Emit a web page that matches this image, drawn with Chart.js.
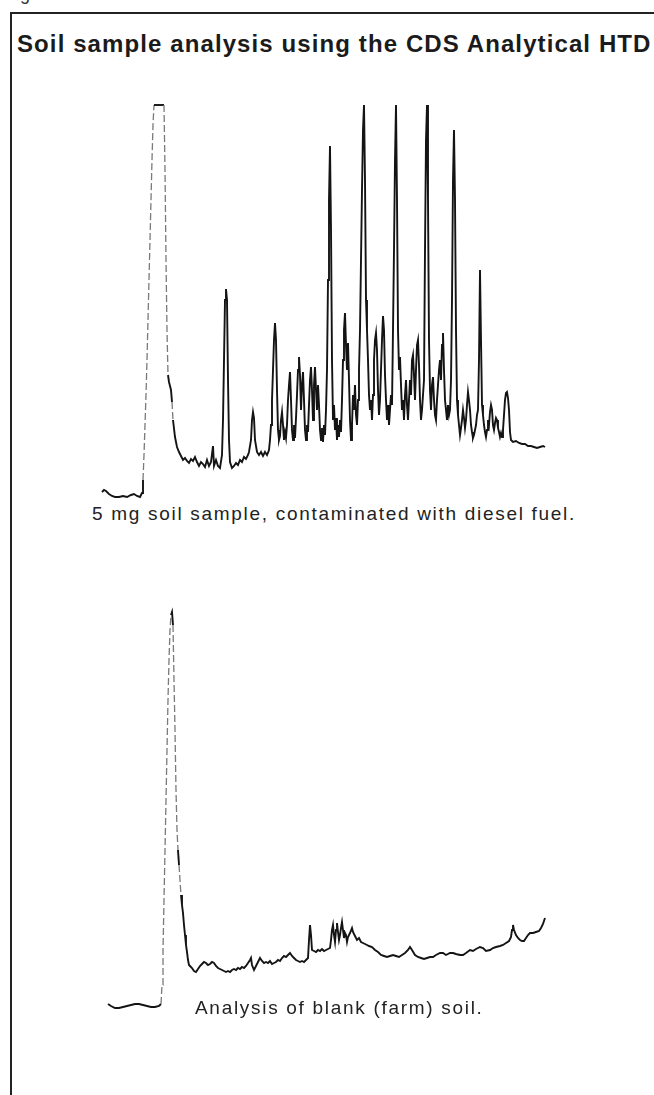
<!DOCTYPE html>
<html>
<head>
<meta charset="utf-8">
<script src="https://cdn.jsdelivr.net/npm/chart.js@4.4.1/dist/chart.umd.min.js"></script>
<style>
html,body{margin:0;padding:0;background:#fff;}
body{width:654px;height:1095px;position:relative;overflow:hidden;font-family:"Liberation Sans",Arial,Helvetica,sans-serif;color:#1b1b1b;}
#frame{position:absolute;left:10px;top:12px;width:660px;height:1100px;border-top:2px solid #222;border-left:2px solid #222;}
#fig{position:absolute;left:5px;top:-16px;font-size:18px;color:#333;}
#title{position:absolute;left:17px;top:30px;font-size:24px;font-weight:bold;letter-spacing:1.1px;white-space:nowrap;}
.cap{position:absolute;font-size:19px;letter-spacing:1.7px;white-space:nowrap;color:#222;}
#cap1{left:92px;top:503px;}
#cap2{left:195px;top:997px;}
#c1{position:absolute;left:100px;top:100px;}
#c2{position:absolute;left:100px;top:600px;}
</style>
</head>
<body>
<div id="fig">Figure</div>
<div id="frame"></div>
<div id="title">Soil sample analysis using the CDS Analytical HTD</div>
<canvas id="c1" width="450" height="400"></canvas>
<div class="cap" id="cap1">5 mg soil sample, contaminated with diesel fuel.</div>
<canvas id="c2" width="450" height="420"></canvas>
<div class="cap" id="cap2">Analysis of blank (farm) soil.</div>
<script>
// Retention time (min) and detector response (arbitrary units)
const sampleTime = [
0.2,0.4,0.6,0.9,1.2,1.5,1.9,2.3,2.7,3.1,3.4,3.7,4.0,4.2,
4.3,4.4,4.5,4.6,4.7,4.8,4.9,5.0,5.1,5.2,5.3,5.4,6.4,
6.5,6.6,6.7,6.8,6.9,7.1,7.2,7.3,7.5,7.7,7.9,8.1,8.3,8.5,8.7,8.9,9.1,9.3,9.5,9.7,9.9,10.1,10.3,10.5,10.7,10.9,11.1,11.3,11.4,11.6,11.8,12.0,12.2,12.3,12.4,12.5,12.6,12.7,12.8,12.9,13.0,13.2,13.4,13.6,13.8,14.0,14.2,14.4,14.6,14.8,14.9,15.1,15.2,15.3,15.4,15.5,15.7,15.9,16.1,16.3,16.5,16.7,16.9,
17.0,17.1,17.2,17.3,17.4,17.5,17.6,17.7,17.8,17.9,
18.0,18.1,18.2,18.3,18.4,18.5,18.6,18.7,18.8,18.9,
19.0,19.1,19.2,19.3,19.4,19.5,19.6,19.7,19.8,19.9,
20.0,20.1,20.2,20.3,20.4,20.5,20.6,20.7,20.8,20.9,
21.0,21.1,21.2,21.3,21.4,21.5,21.6,21.7,21.8,21.9,
22.0,22.1,22.2,22.3,22.4,22.5,22.6,22.7,22.8,22.9,
23.0,23.1,23.2,23.3,23.4,23.5,23.6,23.7,23.8,23.9,
24.0,24.1,24.2,24.3,24.4,24.5,24.6,24.7,24.8,24.9,
25.0,25.1,25.2,25.3,25.4,25.5,25.6,25.7,25.8,25.9,
26.0,26.1,26.2,26.3,26.4,26.5,26.6,26.7,26.8,26.9,
27.0,27.1,27.2,27.3,27.4,27.5,27.6,27.7,27.8,27.9,
28.0,28.1,28.2,28.3,28.4,28.5,28.6,28.7,28.8,28.9,
29.0,29.1,29.2,29.3,29.4,29.5,29.6,29.7,29.8,29.9,
30.0,30.1,30.2,30.3,30.4,30.5,30.6,30.7,30.8,30.9,
31.0,31.1,31.2,31.3,31.4,31.5,31.6,31.7,31.8,31.9,
32.0,32.1,32.2,32.3,32.4,32.5,32.6,32.7,32.8,32.9,
33.0,33.1,33.2,33.3,33.4,33.5,33.6,33.7,33.8,33.9,
34.0,34.1,34.2,34.3,34.4,34.5,34.6,34.7,34.8,34.9,
35.0,35.1,35.2,35.3,35.4,35.5,35.6,35.7,35.8,35.9,
36.0,36.1,36.2,36.3,36.4,36.5,36.6,36.7,36.8,36.9,
37.0,37.1,37.2,37.3,37.4,37.5,37.6,37.7,37.8,37.9,
38.0,38.1,38.2,38.3,38.4,38.5,38.6,38.7,38.8,38.9,
39.0,39.1,39.2,39.3,39.4,39.5,39.6,39.7,39.8,39.9,
40.0,40.1,40.2,40.3,40.4,40.5,40.6,40.7,40.8,40.9,
41.0,41.1,41.3,41.6,41.9,42.2,42.5,42.8,43.1,43.4,43.7,44.0,44.3,44.5
];
const sampleSignal = [
8,10,9,6,4,3,3,4,3,5,6,4,3,7,
20,45,75,105,140,180,220,260,300,340,375,395,395,
330,240,170,125,118,110,98,80,63,53,48,44,40,42,39,37,41,39,43,38,34,38,36,33,40,34,38,54,34,40,34,32,45,80,140,200,211,200,120,60,38,32,34,37,35,40,38,43,41,45,48,60,80,88,82,60,48,45,48,44,48,45,50,
60,75,100,130,160,177,160,110,70,60,
64,80,88,75,60,68,62,75,100,115,
128,100,70,60,75,62,82,105,130,143,
125,90,115,128,100,70,60,75,68,95,
120,133,110,80,115,133,110,90,115,95,
70,60,72,58,75,65,90,130,220,300,
354,270,140,80,95,70,82,60,75,63,
80,68,100,140,170,187,155,130,157,120,
80,60,75,105,90,115,85,75,100,130,
170,240,310,370,395,320,200,170,140,105,
90,100,80,105,140,160,167,150,110,85,
100,130,160,184,170,125,100,80,95,75,
90,105,95,170,250,340,395,300,170,130,
143,115,90,100,80,105,120,95,80,100,
120,105,140,145,125,100,130,155,160,135,
100,80,90,105,120,250,360,395,300,160,
110,90,115,123,100,85,80,100,115,130,
140,120,155,167,130,100,90,80,95,85,
90,120,200,320,370,300,170,100,85,75,
65,72,80,90,82,72,80,95,108,100,
90,75,68,62,65,70,75,85,90,140,
230,160,95,85,75,68,63,70,80,75,
88,95,90,75,70,77,82,80,72,68,
63,67,63,70,85,100,107,108,102,90,
68,60,58,59,57,56,56,54,54,53,52,53,54,53
];
const blankTime = [
0.8,1.1,1.5,1.9,2.3,2.7,3.1,3.5,3.9,4.3,4.7,5.1,5.5,5.9,6.1,
6.2,6.3,6.4,6.5,6.6,6.7,6.8,6.9,7.0,7.1,7.2,7.3,7.4,7.5,7.6,7.7,7.8,7.9,8.0,8.1,8.2,8.3,8.4,8.5,8.6,8.7,8.8,8.9,9.0,
9.2,9.4,9.6,9.8,10.0,10.2,10.4,10.6,10.8,11.0,11.2,11.4,11.6,11.8,12.0,12.2,12.4,12.6,12.8,13.0,13.2,13.4,13.6,13.8,14.0,14.2,14.4,14.6,14.8,15.0,15.1,15.2,15.4,15.6,15.8,16.0,16.2,16.4,16.6,16.8,17.0,17.2,17.4,17.6,17.8,18.0,18.2,18.4,18.6,18.8,19.0,19.2,19.4,19.6,19.8,20.0,20.2,20.4,20.6,20.8,20.9,21.0,21.1,21.2,21.4,21.6,21.8,22.0,22.2,22.4,22.6,22.8,23.0,
23.1,23.2,23.3,23.4,23.5,23.6,23.7,23.8,23.9,24.0,24.1,24.2,24.3,24.4,24.5,24.6,24.7,24.8,25.0,25.2,25.3,25.5,25.7,25.9,26.1,26.3,26.5,26.7,26.9,27.2,27.5,27.8,28.1,28.4,28.7,29.0,29.3,29.6,29.9,30.2,30.5,30.8,31.0,31.2,31.5,31.8,32.1,32.4,32.7,33.0,33.3,33.6,34.0,34.3,34.6,35.0,35.3,35.6,36.0,36.3,36.6,37.0,37.3,37.6,38.0,38.3,38.6,39.0,39.3,39.6,40.0,40.3,40.6,40.9,41.1,41.2,41.3,41.4,41.6,41.8,42.0,42.2,42.4,42.6,42.8,43.0,43.3,43.6,43.9,44.1,44.3,44.5
];
const blankSignal = [
16,14,12,12,13,14,15,16,16,15,14,13,13,14,16,
35,70,120,170,220,270,320,360,390,405,408,395,340,290,230,190,170,155,140,125,115,107,95,85,75,68,60,55,54,
52,49,48,51,54,56,58,57,55,56,58,57,54,52,51,50,49,48,49,48,50,51,50,52,51,53,52,54,57,60,62,55,50,54,58,62,59,57,58,57,59,56,57,58,60,59,62,64,63,65,67,64,62,60,59,58,59,58,60,62,80,95,85,70,69,68,70,69,71,69,70,71,72,
80,90,95,85,78,90,97,88,80,85,92,98,90,82,87,85,78,83,87,92,88,84,80,82,78,77,76,75,74,73,70,68,65,64,63,64,65,64,63,65,67,70,73,70,65,63,62,61,62,63,63,65,67,67,65,67,67,66,65,65,67,70,69,71,73,72,69,70,72,73,74,75,77,79,83,90,95,90,85,82,80,79,79,82,85,87,87,88,89,92,96,102
];

const TIME_MAX = 45;

function pts(t, v){ return t.map((x,i)=>({x:x, y:v[i]})); }

function steep(ctx){
  const dx = ctx.p1.parsed.x - ctx.p0.parsed.x;
  const dy = Math.abs(ctx.p1.parsed.y - ctx.p0.parsed.y);
  return ctx.p0.parsed.x < 9 && dy/dx > 150;
}

function makeChart(id, t, v, yMax){
  return new Chart(document.getElementById(id), {
    type: 'line',
    data: { datasets: [{
      data: pts(t, v),
      borderColor: '#141414',
      borderWidth: 1.9,
      pointRadius: 0,
      tension: 0,
      fill: false,
      clip: false,
      borderJoinStyle: 'miter',
      segment: {
        borderColor: ctx => steep(ctx) ? '#7a7a7a' : undefined,
        borderDash: ctx => steep(ctx) ? [7,3] : undefined,
        borderWidth: ctx => steep(ctx) ? 1.3 : undefined
      }
    }]},
    options: {
      responsive: false,
      animation: false,
      events: [],
      layout: { padding: 0 },
      plugins: { legend: { display: false }, tooltip: { enabled: false }, title: { display: false } },
      scales: {
        x: { type: 'linear', min: 0, max: TIME_MAX, display: false },
        y: { type: 'linear', min: 0, max: yMax, display: false }
      }
    }
  });
}

makeChart('c1', sampleTime, sampleSignal, 400);
makeChart('c2', blankTime, blankSignal, 420);
</script>
</body>
</html>
